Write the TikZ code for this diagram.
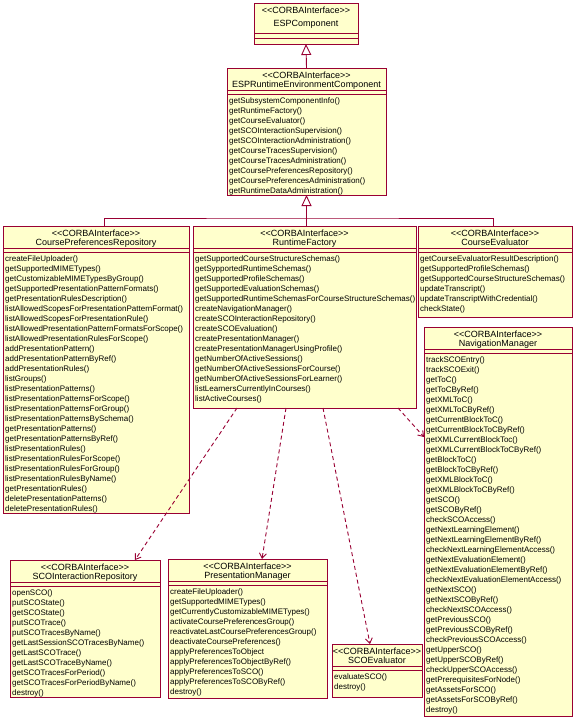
\documentclass[tikz,border=0pt]{standalone}
\usepackage{fontspec}
\setmainfont{Liberation Sans}
\usetikzlibrary{arrows.meta}

\definecolor{umlred}{HTML}{990033}
\definecolor{umlfill}{HTML}{FFFFCC}

\tikzset{
  umlline/.style={draw=umlred, line width=0.9pt},
  classbox/.style={umlline, fill=umlfill, inner sep=0pt, outer sep=0pt},
  stereo/.style={anchor=base, inner sep=0pt, font=\fontsize{9}{10}\selectfont},
  oper/.style={anchor=base west, inner sep=0pt, font=\fontsize{8}{10}\selectfont},
  genline/.style={umlline, -{Triangle[open, length=11pt, width=10pt, fill=white]}},
  depline/.style={umlline, dash pattern=on 4pt off 3pt, -{Straight Barb[length=5pt, width=7pt]}}
}

% name, left, top, right, bottom, title, operations
\newcommand{\umlclass}[7]{%
  \node[classbox, minimum width={#4-#2}, minimum height={#5-#3}] (#1) at ({(#2+#4)/2},{(#3+#5)/2}) {};
  \draw[umlline] (#2,#3+22) -- (#4,#3+22) (#2,#3+26) -- (#4,#3+26);
  \node[stereo] (#1-st) at ({(#2+#4)/2},#3+10.5) {<{}<CORBAInterface>{}>};
  \node[stereo] (#1-nm) at ({(#2+#4)/2},#3+19) {#6};
  \foreach \m [count=\i] in {#7}
    \node[oper] (#1-op\i) at (#2+2,{#3+35+(\i-1)*10}) {\m};
}

\begin{document}
\begin{tikzpicture}[x=1pt,y=-1pt,line join=miter]
  \path[fill=white,use as bounding box] (0,0) rectangle (576,723);

  % top interface
  \node[classbox, minimum width=104, minimum height=41] (esp) at (306,23.5) {};
  \draw[umlline] (254,33) -- (358,33) (254,38) -- (358,38);
  \node[stereo] (esp-st) at (306,13.3) {<{}<CORBAInterface>{}>};
  \node[stereo] (esp-nm) at (306,26.3) {ESPComponent};

  \umlclass{espre}{227}{68}{386}{195}{ESPRuntimeEnvironmentComponent}{getSubsystemComponentInfo(),
    getRuntimeFactory(), getCourseEvaluator(), getSCOInteractionSupervision(),
    getSCOInteractionAdministration(), getCourseTracesSupervision(),
    getCourseTracesAdministration(), getCoursePreferencesRepository(),
    getCoursePreferencesAdministration(), getRuntimeDataAdministration()}

  \umlclass{cpr}{3}{226}{189}{513}{CoursePreferencesRepository}{createFileUploader(),
    getSupportedMIMETypes(), getCustomizableMIMETypesByGroup(),
    getSupportedPresentationPatternFormats(), getPresentationRulesDescription(),
    listAllowedScopesForPresentationPatternFormat(), listAllowedScopesForPresentationRule(),
    listAllowedPresentationPatternFormatsForScope(), listAllowedPresentationRulesForScope(),
    addPresentationPattern(), addPresentationPatternByRef(), addPresentationRules(),
    listGroups(), listPresentationPatterns(), listPresentationPatternsForScope(),
    listPresentationPatternsForGroup(), listPresentationPatternsBySchema(),
    getPresentationPatterns(), getPresentationPatternsByRef(), listPresentationRules(),
    listPresentationRulesForScope(), listPresentationRulesForGroup(),
    listPresentationRulesByName(), getPresentationRules(), deletePresentationPatterns(),
    deletePresentationRules()}

  \umlclass{rf}{193}{226}{416}{408}{RuntimeFactory}{getSupportedCourseStructureSchemas(),
    getSypportedRuntimeSchemas(), getSupportedProfileSchemas(),
    getSupportedEvaluationSchemas(), getSupportedRuntimeSchemasForCourseStructureSchemas(),
    createNavigationManager(), createSCOInteractionRepository(), createSCOEvaluation(),
    createPresentationManager(), createPresentationManagerUsingProfile(),
    getNumberOfActiveSessions(), getNumberOfActiveSessionsForCourse(),
    getNumberOfActiveSessionsForLearner(), listLearnersCurrentlyInCourses(),
    listActiveCourses()}

  \umlclass{ce}{418}{226}{572}{317}{CourseEvaluator}{getCourseEvaluatorResultDescription(),
    getSupportedProfileSchemas(), getSupportedCourseStructureSchemas(),
    updateTranscript(), updateTranscriptWithCredential(), checkState()}

  \umlclass{nm}{424}{327}{572}{716}{NavigationManager}{trackSCOEntry(), trackSCOExit(),
    getToC(), getToCByRef(), getXMLToC(), getXMLToCByRef(), getCurrentBlockToC(),
    getCurrentBlockToCByRef(), getXMLCurrentBlockToc(), getXMLCurrentBlockToCByRef(),
    getBlockToC(), getBlockToCByRef(), getXMLBlockToC(), getXMLBlockToCByRef(),
    getSCO(), getSCOByRef(), checkSCOAccess(), getNextLearningElement(),
    getNextLearningElementByRef(), checkNextLearningElementAccess(),
    getNextEvaluationElement(), getNextEvaluationElementByRef(),
    checkNextEvaluationElementAccess(), getNextSCO(), getNextSCOByRef(),
    checkNextSCOAccess(), getPreviousSCO(), getPreviousSCOByRef(),
    checkPreviousSCOAccess(), getUpperSCO(), getUpperSCOByRef(), checkUpperSCOAccess(),
    getPrerequisitesForNode(), getAssetsForSCO(), getAssetsForSCOByRef(), destroy()}

  \umlclass{sir}{10}{560}{160}{697}{SCOInteractionRepository}{openSCO(), putSCOState(),
    getSCOState(), putSCOTrace(), putSCOTracesByName(), getLastSessionSCOTracesByName(),
    getLastSCOTrace(), getLastSCOTraceByName(), getSCOTracesForPeriod(),
    getSCOTracesForPeriodByName(), destroy()}

  \umlclass{pm}{168}{559}{327}{698}{PresentationManager}{createFileUploader(),
    getSupportedMIMETypes(), getCurrentlyCustomizableMIMETypes(),
    activateCoursePreferencesGroup(), reactivateLastCoursePreferencesGroup(),
    deactivateCoursePreferences(), applyPreferencesToObject,
    applyPreferencesToObjectByRef(), applyPreferencesToSCO(),
    applyPreferencesToSCOByRef(), destroy()}

  \umlclass{se}{332}{644}{422}{697}{SCOEvaluator}{evaluateSCO(), destroy()}

  % generalisations
  \draw[genline] (espre.north) -- (esp.south);
  \coordinate (junc) at (306,218);
  \draw[umlline] ([xshift=8pt]cpr.north) |- (junc) -| ([xshift=-2pt]ce.north);
  \draw[genline] (espre.south |- rf.north) -- (espre.south);

  % dependencies
  \draw[depline] ([xshift=44pt]rf.south west) -- ([xshift=125pt]sir.north west);
  \draw[depline] ([xshift=93pt]rf.south west) -- ([xshift=94pt]pm.north west);
  \draw[depline] ([xshift=130pt]rf.south west) -- ([xshift=38pt]se.north west);
  \draw[depline] ([xshift=205pt]rf.south west) -- ([yshift=-110pt]nm.north west);
\end{tikzpicture}
\end{document}
